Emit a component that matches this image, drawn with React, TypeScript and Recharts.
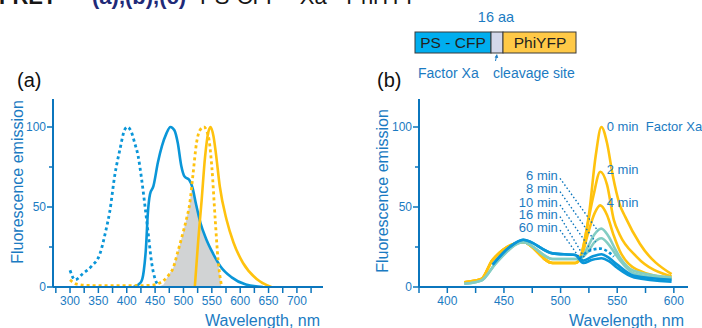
import React from 'react'
import { ComposedChart, Line, Area, XAxis, YAxis, ReferenceLine, ReferenceDot } from 'recharts'

const FONT = '"Liberation Sans", Arial, Helvetica, sans-serif'
const AXIS = '#0b76bd'
const TXT = '#1b7bc2'
const CFP = '#0a96d8'
const YFP = '#ffc20e'
const TEAL = '#83cdc3'
const GREY = '#d1d3d4'

// (a) normalised spectra, wavelength in nm
const cfpExWl = [300, 309, 323, 338, 353, 363, 370, 379, 388, 396, 401, 408, 414, 420, 426, 432, 438, 444, 450, 456]
const cfpExVal = [10.5, 4.5, 8.5, 13, 21, 35, 47, 70, 86, 98, 100, 97, 90, 82, 68, 51, 33, 15, 5, 1]

const cfpEmWl = [412, 425, 430, 434, 437, 441, 447, 455, 462, 470, 477, 484, 490, 496, 502, 510, 516, 522, 530, 540, 552, 565, 585, 610, 640]
const cfpEmVal = [0, 3, 10, 25, 45, 58, 63, 78, 88, 96, 100, 98, 90, 76, 69, 67, 62, 52, 40, 30, 21, 13, 6, 1.5, 0]

const yfpExWl = [300, 310, 330, 360, 400, 440, 459, 473, 482, 490, 497, 505, 511, 517, 523, 529, 536, 544, 550, 556, 561, 567]
const yfpExVal = [4.5, 2, 1, 0.8, 0.8, 1, 2.7, 7, 12, 22, 31, 42, 52, 71, 90, 98, 100, 94, 75, 42, 17, 1]

const yfpEmWl = [520, 526, 532, 538, 544, 548, 553, 557, 564, 576, 588, 605, 629, 655]
const yfpEmVal = [0, 29, 54, 81, 97, 100, 94, 84, 63, 42, 28, 15, 5, 0]

// spectral overlap (grey)
const overlapWl = [455, 465, 473, 482, 490, 497, 505, 511, 515, 522, 530, 540, 552, 561, 564, 567]
const overlapVal = [0, 1.5, 7, 12, 22, 31, 42, 52, 63, 52, 40, 30, 21, 16, 8, 0]

// (b) emission after Factor Xa digestion
const min0Wl = [415, 430, 440, 467, 493, 513, 518, 525, 531, 536, 541, 546, 552, 557, 570, 598]
const min0 = [3, 5, 17, 28, 15, 15, 20, 45, 82, 100, 90, 70, 52, 44, 27, 8]
const min2Wl = [415, 430, 440, 467, 493, 513, 518, 523, 529, 535, 541, 547, 552, 567, 598]
const min2 = [3, 5, 17, 28, 15, 15, 19, 36, 57, 72, 64, 42, 33, 19, 6.5]
const min4Wl = [415, 430, 440, 467, 493, 513, 518, 524, 530, 535, 541, 547, 552, 567, 598]
const min4 = [3, 5, 17, 28, 15, 15, 18, 33, 46, 51, 45, 32, 23, 11, 5.5]
const tealWl = [415, 430, 443, 467, 493, 513, 518, 524, 530, 536, 542, 548, 552, 565, 598]
const min6 = [2, 4, 15, 28, 17.5, 17.5, 18, 25, 33, 36.5, 32, 24, 19, 10, 6]
const min8 = [2, 4, 15, 28, 17.5, 17.5, 18, 22, 28, 30.5, 27, 21, 17, 8.5, 4.8]
const min10Wl = [517, 525, 535, 543, 547]
const min10 = [18, 22.5, 24, 21.5, 19]
const blueWl = [440, 455, 467, 493, 513, 520, 528, 536, 543, 550, 565, 598]
const min16 = [14, 25, 29.5, 21, 20, 16.5, 19, 20.5, 18, 14, 7, 4.5]
const min60 = [14, 25, 29.5, 21, 20, 15, 17, 18, 16, 12, 6, 3.3]

// labels for the time curves
const leftLabels = ['6 min', '8 min', '10 min', '16 min', '60 min']
const leftLabelV = [69.5, 61.5, 53, 45.5, 37.5]
const leaderStartV = [67.9, 59.6, 51.3, 44, 35.6]
const leaderEndWl = [533, 531, 527, 521, 517.5]
const leaderEndV = [35, 28, 23, 18.5, 17.5]
const rightLabels = ['0 min \u00a0Factor Xa', '2 min', '4 min']
const rightLabelV = [100.6, 73.5, 52.7]

const aTicks = [275, 300, 325, 350, 375, 400, 425, 450, 475, 500, 525, 550, 575, 600, 625, 650, 675, 700, 725]
const bTicks = [375, 400, 425, 450, 475, 500, 525, 550, 575, 600]
const yTicks = [0, 25, 50, 75, 100]

const zip = (wl: number[], val: number[]) => wl.map((w, i) => ({ wl: w, v: val[i] }))

function XTick(props: any) {
  const { x, y, payload } = props
  const major = payload.value % 50 === 0
  return (
    <g>
      <line x1={x} y1={y} x2={x} y2={y + 6} stroke={AXIS} strokeWidth={1.5} />
      {major && (
        <text x={x} y={y + 17.5} textAnchor="middle" fontSize={12} fill={TXT} fontFamily={FONT}>
          {payload.value}
        </text>
      )}
    </g>
  )
}

function YTick(props: any) {
  const { x, y, payload } = props
  const major = payload.value % 50 === 0
  return (
    <g>
      <line x1={x - (major ? 6 : 4)} y1={y} x2={x} y2={y} stroke={AXIS} strokeWidth={1.5} />
      {major && (
        <text x={x - 7} y={y + 4.3} textAnchor="end" fontSize={12} fill={TXT} fontFamily={FONT}>
          {payload.value}
        </text>
      )}
    </g>
  )
}

const axisLine = { stroke: AXIS, strokeWidth: 2 }

function Axes({ domain, ticks }: { domain: number[]; ticks: number[] }) {
  return null
}

const lineCommon = { dataKey: 'v', dot: false, activeDot: false, isAnimationActive: false, type: 'monotone' as const }

export default function App() {
  return (
    <div style={{ position: 'absolute', left: 0, top: 0, width: 702, height: 328, overflow: 'hidden', background: '#fff', fontFamily: FONT }}>
      <div style={{ position: 'absolute', left: 0, top: 80 }}>
        <ComposedChart width={340} height={248} margin={{ top: 19, right: 17, bottom: 8, left: 0 }}>
          <XAxis type="number" dataKey="wl" domain={[270, 746]} allowDataOverflow ticks={aTicks} interval={0}
            tickSize={0} tickMargin={0} height={33} axisLine={axisLine} tickLine={false} tick={<XTick />} />
          <YAxis type="number" dataKey="v" domain={[0, 117.5]} allowDataOverflow ticks={yTicks} interval={0}
            tickSize={0} tickMargin={0} width={53} axisLine={axisLine} tickLine={false} tick={<YTick />} />
          <Area data={zip(overlapWl, overlapVal)} dataKey="v" type="linear" fill={GREY} fillOpacity={1}
            stroke="none" isAnimationActive={false} dot={false} activeDot={false} />
          <Line {...lineCommon} data={zip(cfpExWl, cfpExVal)} stroke={CFP} strokeWidth={2.8} strokeDasharray="3 3" />
          <Line {...lineCommon} data={zip(cfpEmWl, cfpEmVal)} stroke={CFP} strokeWidth={2.6} />
          <Line {...lineCommon} data={zip(yfpExWl, yfpExVal)} stroke={YFP} strokeWidth={2.8} strokeDasharray="3 3" />
          <Line {...lineCommon} data={zip(yfpEmWl, yfpEmVal)} stroke={YFP} strokeWidth={2.6} />
        </ComposedChart>
      </div>

      <div style={{ position: 'absolute', left: 366, top: 80 }}>
        <ComposedChart width={336} height={248} margin={{ top: 19, right: 14, bottom: 8, left: 0 }}>
          <XAxis type="number" dataKey="wl" domain={[375, 612.5]} allowDataOverflow ticks={bTicks} interval={0}
            tickSize={0} tickMargin={0} height={33} axisLine={axisLine} tickLine={false} tick={<XTick />} />
          <YAxis type="number" dataKey="v" domain={[0, 117.5]} allowDataOverflow ticks={yTicks} interval={0}
            tickSize={0} tickMargin={0} width={53} axisLine={axisLine} tickLine={false} tick={<YTick />} />
          <Line {...lineCommon} data={zip(min0Wl, min0)} stroke={YFP} strokeWidth={2.6} />
          <Line {...lineCommon} data={zip(min2Wl, min2)} stroke={YFP} strokeWidth={2.6} />
          <Line {...lineCommon} data={zip(min4Wl, min4)} stroke={YFP} strokeWidth={2.6} />
          <Line {...lineCommon} data={zip(tealWl, min6)} stroke={TEAL} strokeWidth={2.6} />
          <Line {...lineCommon} data={zip(tealWl, min8)} stroke={TEAL} strokeWidth={2.6} />
          <Line {...lineCommon} data={zip(min10Wl, min10)} stroke={CFP} strokeWidth={2.6} strokeDasharray="3 2.5" />
          <Line {...lineCommon} data={zip(blueWl, min16)} stroke={CFP} strokeWidth={2.6} />
          <Line {...lineCommon} data={zip(blueWl, min60)} stroke={CFP} strokeWidth={2.6} />
          {leftLabels.map((t, i) => (
            <ReferenceLine key={'l' + t} ifOverflow="visible"
              segment={[{ x: 499.5, y: leaderStartV[i] }, { x: leaderEndWl[i], y: leaderEndV[i] }]}
              stroke={AXIS} strokeWidth={1.4} strokeDasharray="1.5 2.3" />
          ))}
          {leftLabels.map((t, i) => (
            <ReferenceDot key={'d' + t} x={497.6} y={leftLabelV[i]} r={0} ifOverflow="visible" stroke="none" fill="none"
              label={{ value: t, position: 'left', offset: 0, fill: TXT, fontSize: 13, fontFamily: FONT }} />
          ))}
          {rightLabels.map((t, i) => (
            <ReferenceDot key={'r' + i} x={540.8} y={rightLabelV[i]} r={0} ifOverflow="visible" stroke="none" fill="none"
              label={{ value: t, position: 'right', offset: 0, fill: TXT, fontSize: 13, fontFamily: FONT }} />
          ))}
        </ComposedChart>
      </div>

      <svg width={702} height={328} style={{ position: 'absolute', left: 0, top: 0, pointerEvents: 'none' }} fontFamily={FONT}>
        {/* cropped header line */}
        <text x={-1} y={4} fontSize={22} fontWeight="bold" fill="#161616">FRET</text>
        <text x={92} y={4} fontSize={22} fontWeight="bold" fill="#1f2a78">(a),(b),(c)</text>
        <text x={200} y={4} fontSize={22} fill="#161616">PS-CFP - Xa - PhiYFP</text>

        {/* construct diagram */}
        <text x={496} y={22} fontSize={14.5} fill={TXT} textAnchor="middle">16 aa</text>
        <rect x={415} y={32} width={76} height={21} fill="#00aeef" stroke="#3a3a3a" strokeWidth={1} />
        <rect x={491} y={32} width={12} height={21} fill="#d4d8ea" stroke="#3a3a3a" strokeWidth={1} />
        <rect x={503} y={32} width={73} height={21} fill="#ffc947" stroke="#3a3a3a" strokeWidth={1} />
        <text x={453} y={48} fontSize={15.5} fill="#231f20" textAnchor="middle">PS - CFP</text>
        <text x={540} y={48} fontSize={15.5} fill="#231f20" textAnchor="middle">PhiYFP</text>
        <line x1={495.5} y1={61} x2={496.5} y2={56} stroke={TXT} strokeWidth={1} />
        <path d="M494.6 57.5 L497 54 L498.2 58 Z" fill={TXT} />
        <text x={418} y={78} fontSize={14} fill={TXT}>Factor Xa</text>
        <text x={493} y={78} fontSize={14} fill={TXT}>cleavage site</text>

        {/* panel letters */}
        <text x={17} y={87} fontSize={20} fill="#111">(a)</text>
        <text x={377} y={87} fontSize={20} fill="#111">(b)</text>

        {/* axis titles */}
        <text transform="translate(23,182) rotate(-90)" fontSize={16} fill={TXT} textAnchor="middle">Fluorescence emission</text>
        <text transform="translate(388,191) rotate(-90)" fontSize={16} fill={TXT} textAnchor="middle">Fluorescence emission</text>
        <text x={320} y={326} fontSize={16} fill={TXT} textAnchor="end">Wavelength, nm</text>
        <text x={684} y={326} fontSize={16} fill={TXT} textAnchor="end">Wavelength, nm</text>
      </svg>
    </div>
  )
}
